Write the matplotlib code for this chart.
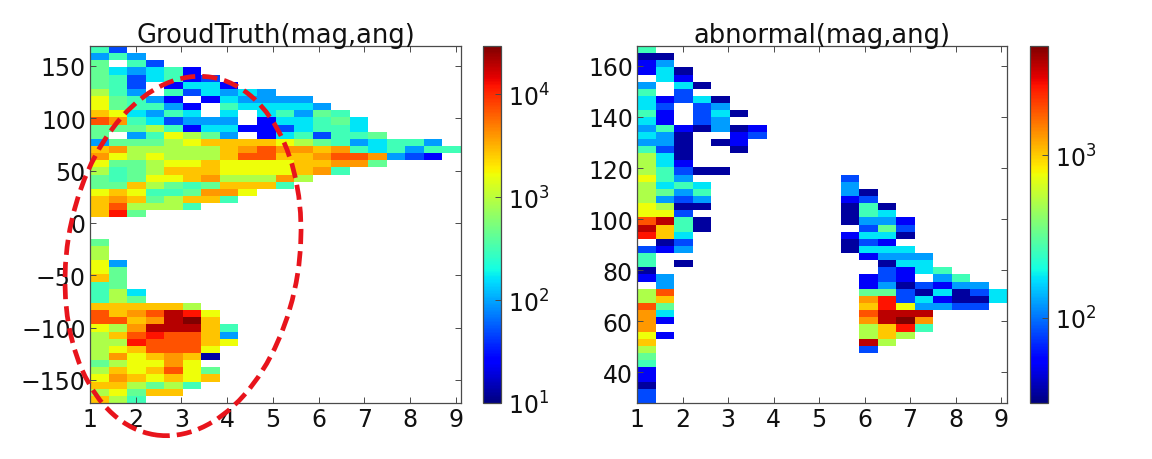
import numpy as np
import matplotlib
matplotlib.use("Agg")
import matplotlib.pyplot as plt
from matplotlib.colors import LogNorm
from matplotlib.patches import Ellipse
from matplotlib.transforms import IdentityTransform

# Values read from the picture as colour levels (0 = empty bin), rows listed top to bottom,
# then turned into counts through the level tables below.
ground_levels = [
 [6,3],[4,6,4],[7,0,6,3],[7,5,4,5,6,2],[7,6,3,5,6,2,3],
 [7,6,3,0,2,5,5,2],[8,6,4,0,6,3,5,4,5,4],[9,7,6,4,2,0,2,5,4,4,4,4],
 [9,7,6,6,4,2,0,6,5,5,5,5,4],[10,9,5,4,6,5,0,5,0,5,6,4,7,6],
 [12,11,6,5,3,4,4,4,0,2,5,5,6,7,5],[7,7,7,8,6,2,5,5,2,2,3,5,6,6,5],
 [7,0,4,6,9,8,7,4,0,2,5,6,3,6,6,7],
 [4,7,7,7,8,9,10,10,10,10,9,8,7,6,4,5,6,6,4],
 [10,11,8,8,8,8,8,10,11,12,11,11,10,11,6,5,6,4,6,6],
 [11,9,8,9,8,8,8,10,12,12,10,10,11,12,12,11,4,3,2],
 [9,7,7,8,9,9,10,9,9,9,9,10,10,11,11,7],
 [8,6,7,8,10,10,10,9,9,9,9,10,11,6],
 [7,6,7,9,9,10,11,8,8,8,11,8],[7,7,10,8,7,6,7,10,10,10,6],
 [9,10,9,6,6,7,11,11,9],[10,11,10,7,8,10,10,6],[10,12,8,8,8,6],[10,13,7],
 [],[],[],[7],[8],[8],[9,4],[9,7],[10,7],[6,7],[6,8,5],[6,8,7],
 [10,10,10,10,10,8],[12,10,11,12,14,13,9],[12,12,10,11,14,15,10],
 [9,8,11,14,14,14,10,6],[8,10,12,13,12,12,10,4],[8,8,13,12,12,12,10,9],
 [8,9,10,12,12,12,9],[8,11,9,10,11,10,1],[7,8,9,9,11,9],[8,10,9,10,12,9,7],
 [9,11,10,9,10,9,10],[10,10,8,7,8,6],[8,9,7,10,10],[10,8,6],
]

abnormal_levels = [
 [6],[1,1],[2,4],[2,5,1],[0,5,2],[4,0,5,1],[6,0,3],[5,2,3,5,1],[5,3,0,3,4],
 [6,2,0,3,5,1],[5,2,0,3,4],[4,6,2,1,4,1,2],[5,4,1,0,0,2,3],[4,4,1,0,1,2],
 [6,3,1,0,0,1],[8,5,1],[8,5,2],[8,6,3,1,1],
 [9,6,4,0,0,0,0,0,0,0,0,3],
 [8,5,6,5,0,0,0,0,0,0,0,4],
 [8,7,4,6,0,0,0,0,0,0,0,4,1],
 [8,4,3,4,0,0,0,0,0,0,0,2,3],
 [9,8,1,1,0,0,0,0,0,0,0,1,6,1],
 [9,9,3,0,0,0,0,0,0,0,0,1,6,5],
 [12,14,6,1,0,0,0,0,0,0,0,1,4,4,2],
 [14,10,6,1,0,0,0,0,0,0,0,0,3,7,3],
 [13,10,5,0,0,0,0,0,0,0,0,2,5,5,1],
 [0,1,3,0,0,0,0,0,0,0,0,1,3,2],
 [3,2,4,0,0,0,0,0,0,0,0,1,5,5,5],
 [6,0,0,0,0,0,0,0,0,0,0,0,2,4,4,4],
 [6,0,1,0,0,0,0,0,0,0,0,0,0,1,5,5],
 [1,0,0,0,0,0,0,0,0,0,0,0,0,3,2,5,6],
 [2,4,0,0,0,0,0,0,0,0,0,0,2,3,2,0,4,6],
 [0,4,0,0,0,0,0,0,0,0,0,0,2,4,1,3,2,4,4],
 [8,12,0,0,0,0,0,0,0,0,0,0,7,7,3,1,5,1,3,5],
 [8,10,0,0,0,0,0,0,0,0,0,0,11,13,3,5,2,1,1,5],
 [12,7,0,0,0,0,0,0,0,0,0,0,10,13,9,4,4,3,3],
 [11,5,0,0,0,0,0,0,0,0,0,0,12,14,14,14],
 [11,2,0,0,0,0,0,0,0,0,0,0,11,14,15,11],
 [11,0,0,0,0,0,0,0,0,0,0,0,8,10,13,6],
 [9,2,0,0,0,0,0,0,0,0,0,0,8,10,8],
 [10,0,0,0,0,0,0,0,0,0,0,0,14,8],
 [8,0,0,0,0,0,0,0,0,0,0,0,3],
 [7],[6],[2],[2],[1],[3],[3],
]

ground_counts = [0,13,24,49,94,164,309,426,871,1660,2692,4000,7100,12300,20000,29500]
abnormal_counts = [0,35,52,82,123,176,263,323,508,759,1023,1318,1905,2692,3631,4700]

x_ticks = [1,2,3,4,5,6,7,8,9]
ground_y_ticks = [-150,-100,-50,0,50,100,150]
abnormal_y_ticks = [40,60,80,100,120,140,160]
titles = ["GroudTruth(mag,ang)", "abnormal(mag,ang)"]

N_COLS, N_ROWS = 20, 50

def to_grid(levels, counts):
    grid = np.full((N_ROWS, N_COLS), np.nan)
    for r, row in enumerate(levels):
        for c, lev in enumerate(row):
            if lev:
                grid[r, c] = counts[lev]
    return np.ma.masked_invalid(grid)

W, H = 1152, 460
fig = plt.figure(figsize=(W/100, H/100), dpi=100, facecolor="white")
plt.rcParams["font.family"] = "DejaVu Sans"

def ax_px(x0, x1, y0=47, y1=404):
    return fig.add_axes([x0/W, 1-y1/H, (x1-x0)/W, (y1-y0)/H])

GREY = "#4a4a4a"
FS = 17

def panel(x0, x1, cx0, cx1, levels, counts, xlim, ylim, yticks, title, vmin, vmax, cticks):
    ax = ax_px(x0, x1)
    xe = np.linspace(xlim[0], xlim[1], N_COLS+1)
    ye = np.linspace(ylim[1], ylim[0], N_ROWS+1)
    m = ax.pcolormesh(xe, ye, to_grid(levels, counts), cmap="jet",
                      norm=LogNorm(vmin=vmin, vmax=vmax), linewidth=0, rasterized=True)
    ax.set_xlim(xlim); ax.set_ylim(ylim)
    ax.set_xticks(x_ticks); ax.set_yticks(yticks)
    ax.tick_params(direction="in", top=True, right=True, length=4, width=0.7,
                   labelsize=FS, color=GREY, labelcolor="#111111", pad=3)
    for s in ax.spines.values():
        s.set_color(GREY); s.set_linewidth(0.9)
    ax.set_title(title, fontsize=18.5, color="#111111", pad=3)
    cax = ax_px(cx0, cx1)
    cb = fig.colorbar(m, cax=cax)
    cb.set_ticks(cticks)
    cb.ax.minorticks_off()
    cb.ax.tick_params(direction="in", length=4, width=0.7, labelsize=FS,
                      color=GREY, labelcolor="#111111", pad=5)
    cb.outline.set_edgecolor(GREY); cb.outline.set_linewidth(0.9)
    return ax

panel(90, 461, 483, 501, ground_levels, ground_counts, (1, 9.11), (-172, 169),
      ground_y_ticks, titles[0], 10, 29500, [10,100,1000,10000])
panel(637, 1007, 1030, 1048, abnormal_levels, abnormal_counts, (1, 9.13), (28, 167.8),
      abnormal_y_ticks, titles[1], 30, 4700, [100,1000])

# Hand-drawn red dashed ellipse laid over the left panel (pixel coordinates of the figure)
fig.add_artist(Ellipse((183, H-257), width=232, height=362, angle=-9, fill=False,
                       edgecolor="#e8141c", linewidth=3.4, linestyle=(0, (3.2, 1.5)),
                       transform=IdentityTransform(), clip_on=False, zorder=10))

fig.savefig("out.png", dpi=100, facecolor="white")
